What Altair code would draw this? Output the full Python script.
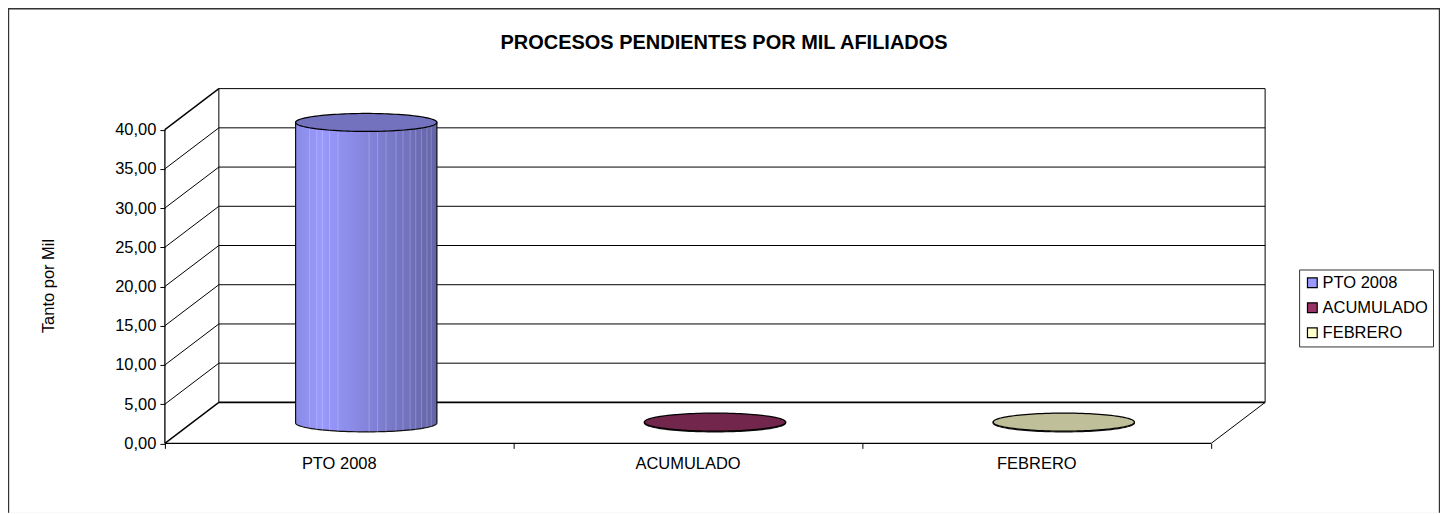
import math
import altair as alt
import pandas as pd

categories = ["PTO 2008", "ACUMULADO", "FEBRERO"]
values = [38.3, 0.1, 0.1]
legend_colors = ["#9999FF", "#993366", "#FFFFCC"]
ticks = [0, 5, 10, 15, 20, 25, 30, 35, 40]
# light seams of the shaded cylinder, as a fraction of its width from the left
seams = [0.10, 0.15, 0.19, 0.24, 0.30, 0.52, 0.58, 0.64, 0.71, 0.76, 0.81, 0.85, 0.89, 0.93, 0.96]

# Scale set-up: one category = 349 px, one value unit = 7.85 px
W, H = 1433, 505
PX_CAT, PX_VAL = 349.0, 7.85
X0, Y0 = 157.0, 435.5           # origin inside the plot area
XDOM = [-X0 / PX_CAT, (W - X0) / PX_CAT]
YDOM = [-(H - Y0) / PX_VAL, Y0 / PX_VAL]
DX, DY = 54 / PX_CAT, 41 / PX_VAL   # 3-D depth shear
RX, RY = 70.7 / PX_CAT, 9 / PX_VAL  # cylinder ellipse radii
N = len(categories)

xs = alt.Scale(domain=XDOM, nice=False, zero=False)
ys = alt.Scale(domain=YDOM, nice=False, zero=False)
FONT = "Liberation Sans"
X = alt.X("x:Q", scale=xs, title=None, axis=alt.Axis(
    values=list(range(N + 1)), offset=-(H - Y0), domain=False, grid=False, labels=False,
    tickSize=5, tickColor="#000", title=None))
Y = alt.Y("y:Q", scale=ys, axis=alt.Axis(
    values=ticks, labelExpr="replace(format(datum.value, '.2f'), '.', ',')", offset=-X0,
    domain=False, grid=False, tickSize=5, tickColor="#000", labelColor="#000",
    labelFont=FONT, labelFontSize=16.5, labelPadding=4,
    title="Tanto por Mil", titleFont=FONT, titleFontSize=16.5, titleFontWeight="normal",
    titleColor="#000", titleX=-108, titleY=Y0 - 20 * PX_VAL - 1))

# wireframe
segs = []
def seg(x, y, x2, y2, w=1.0):
    segs.append(dict(x=x, y=y, x2=x2, y2=y2, w=w))
top = ticks[-1]
for t in ticks:
    seg(0, t, DX, t + DY, 1.4 if t in (0, 40) else 1.0)
    seg(DX, t + DY, N + DX, t + DY, 1.6 if t == 0 else 1.0)
seg(0, 0, N, 0, 1.2)
seg(N, 0, N + DX, DY)
seg(0, 0, 0, top, 1.3)
seg(DX, DY, DX, top + DY)
seg(N + DX, DY, N + DX, top + DY)
wire = alt.Chart(pd.DataFrame(segs)).mark_rule(color="#000").encode(
    x=X, y=Y, x2="x2:Q", y2="y2:Q",
    strokeWidth=alt.StrokeWidth("w:Q", scale=None))

# outer frame (open at the bottom, as the picture is cut there)
frame = pd.DataFrame([
    dict(x=XDOM[0], y=YDOM[1], x2=XDOM[1], y2=YDOM[1]),
    dict(x=XDOM[0], y=YDOM[0], x2=XDOM[0], y2=YDOM[1]),
    dict(x=XDOM[1], y=YDOM[0], x2=XDOM[1], y2=YDOM[1]),
])
frame_rules = alt.Chart(frame).mark_rule(color="#333", strokeWidth=2.4).encode(
    x=X, y=Y, x2="x2:Q", y2="y2:Q")

# cylinders
angles = list(range(0, 181, 3))
body, cap = [], []
for i, (c, v) in enumerate(zip(categories, values)):
    cx = i + 0.5 + DX / 2
    for a in angles:
        r = math.radians(a)
        u = -math.cos(r)
        s = math.sin(r)
        body.append(dict(cat=c, x=cx + RX * u, y=v + DY / 2, y2=DY / 2 - RY * s))
        cap.append(dict(cat=c, x=cx + RX * u, y=v + DY / 2 + RY * s, y2=v + DY / 2 - RY * s))
body = pd.DataFrame(body)
cap = pd.DataFrame(cap)

seam_rows = []
for f in seams:
    u = 2 * f - 1
    seam_rows.append(dict(x=0.5 + DX / 2 + RX * u, y=values[0] + DY / 2,
                          y2=DY / 2 - RY * math.sqrt(1 - u * u)))
seam_rules = alt.Chart(pd.DataFrame(seam_rows)).mark_rule(color="#fff", opacity=0.22, strokeWidth=1).encode(
    x=X, y=Y, y2="y2:Q")

fill = alt.Fill("cat:N", scale=alt.Scale(domain=categories, range=legend_colors),
                legend=alt.Legend(title=None, orient="none", legendX=1292, legendY=261.5,
                                  symbolType="square", symbolSize=95, symbolStrokeColor="#000",
                                  symbolStrokeWidth=1.2, labelFont=FONT, labelFontSize=16.5,
                                  labelColor="#000", labelOffset=2, rowPadding=8, strokeColor="#333",
                                  fillColor="#fff", padding=5, labelLimit=200))
area_enc = dict(x=X, y=Y, y2="y2:Q", detail="cat:N")
body_base = alt.Chart(body).mark_area(stroke="#111", strokeWidth=1.2).encode(fill=fill, **area_enc)
shade = alt.Gradient(gradient="linear", x1=0, x2=1, y1=0, y2=0, stops=[
    alt.GradientStop(offset=0, color="rgba(0,0,0,0.1)"),
    alt.GradientStop(offset=0.18, color="rgba(0,0,0,0)"),
    alt.GradientStop(offset=1, color="rgba(0,0,0,0.35)"),
])
body_shade = alt.Chart(body[body.cat == categories[0]]).mark_area(fill=shade).encode(**area_enc)
cap_base = alt.Chart(cap).mark_area(stroke="#000", strokeWidth=1.2).encode(fill=alt.Fill("cat:N", legend=None), **area_enc)
cap_shade = alt.Chart(cap).mark_area(fill="#000", fillOpacity=0.25).encode(**area_enc)

cat_labels = alt.Chart(pd.DataFrame(dict(x=[i + 0.5 for i in range(N)], y=[-2.6] * N, t=categories))).mark_text(
    font=FONT, fontSize=16.5, color="#000", baseline="middle", align="center"
).encode(x=X, y=Y, text="t:N")

chart = alt.layer(frame_rules, wire, body_base, body_shade, seam_rules, cap_base, cap_shade, cat_labels).properties(
    width=W, height=H,
    title=alt.Title("PROCESOS PENDIENTES POR MIL AFILIADOS", font=FONT, fontSize=20, fontWeight="bold",
                    color="#000", anchor="middle", offset=-46),
    padding=0,
    autosize=alt.AutoSizeParams(type="none"),
).configure_view(stroke=None, fill="#fff").configure(background="#fff")

chart.save("out.html", embed_options={"renderer": "svg", "actions": False})
